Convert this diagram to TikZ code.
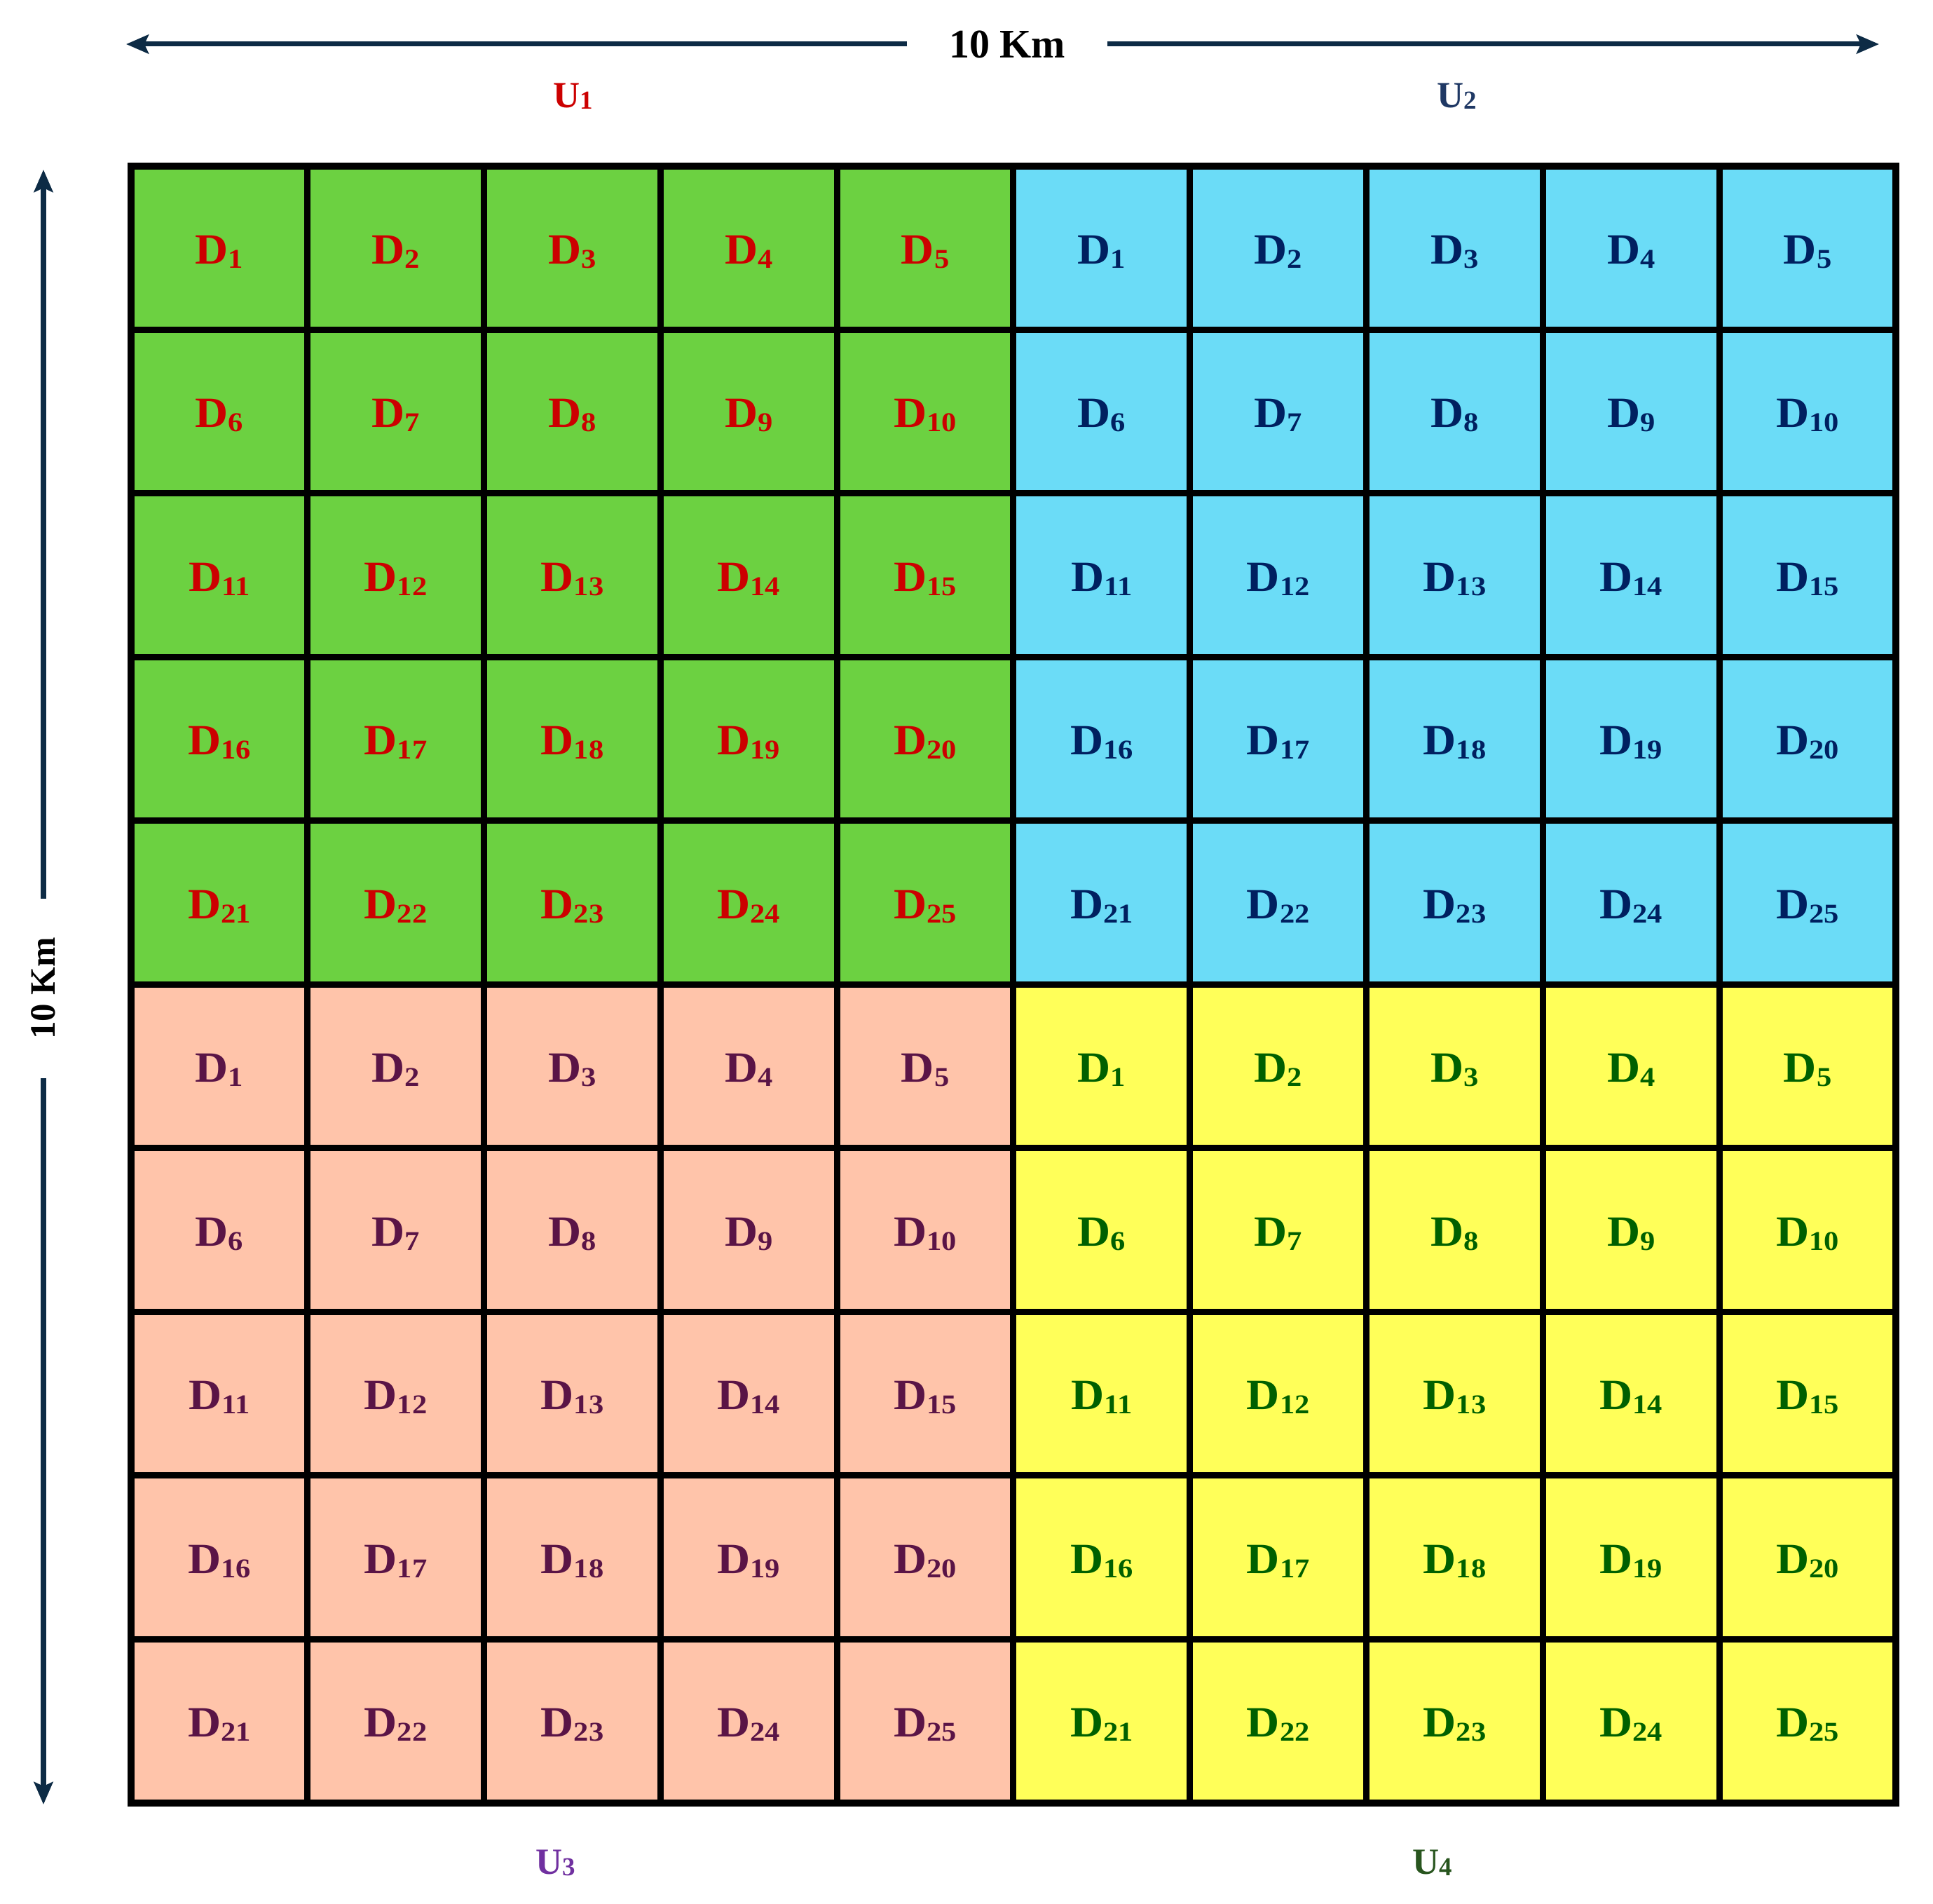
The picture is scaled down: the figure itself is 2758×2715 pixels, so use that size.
\documentclass[tikz,border=0pt]{standalone}
\usepackage{fontspec}
\usepackage{graphicx}
\setmainfont{Liberation Serif}
\usetikzlibrary{arrows.meta}
\definecolor{qf1}{RGB}{108,209,65}
\definecolor{qf2}{RGB}{107,220,247}
\definecolor{qf3}{RGB}{255,196,170}
\definecolor{qf4}{RGB}{255,255,89}
\definecolor{qt1}{RGB}{204,0,0}
\definecolor{qt2}{RGB}{0,32,96}
\definecolor{qt3}{RGB}{90,20,70}
\definecolor{qt4}{RGB}{0,96,0}
\definecolor{uc1}{RGB}{204,0,0}
\definecolor{uc2}{RGB}{31,56,100}
\definecolor{uc3}{RGB}{112,48,160}
\definecolor{uc4}{RGB}{40,85,30}
\definecolor{arrowc}{RGB}{13,43,69}
\newcommand\Dlab[1]{\scalebox{1.06}[1]{D}\raisebox{-1.7pt}{\scalebox{1.1}[1]{\fontsize{11}{11}\selectfont #1}}}
\newcommand\Ulab[1]{U\raisebox{-0.6pt}{\fontsize{10.5}{10.5}\selectfont #1}}
\tikzset{
  cell/.style={draw=black, line width=0.09cm, minimum width=2.518cm, minimum height=2.335cm,
    inner sep=0pt, outer sep=0pt, text height=12.7pt, text depth=0pt,
    font=\fontsize{17.5}{17.5}\selectfont\bfseries},
  km/.style={inner ysep=0pt, inner xsep=0.59cm, font=\fontsize{16.5}{16.5}\selectfont\bfseries, text=black},
  vkmstyle/.style={inner ysep=0pt, inner xsep=0.54cm, font=\fontsize{14.5}{14.5}\selectfont\bfseries, text=black, rotate=90},
  ulab/.style={inner sep=0pt, font=\fontsize{15}{15}\selectfont\bfseries},
  dim/.style={draw=arrowc, line width=0.07cm, -{Stealth[length=0.32cm,width=0.27cm,inset=0.06cm]}}
}
\begin{document}
\begin{tikzpicture}[x=0.01cm,y=-0.01cm]
\useasboundingbox (0,0) rectangle (2758,2715);
\def\gx{187}\def\gy{237}\def\cw{251.8}\def\ch{233.5}
\foreach \r in {0,...,9}{
  \foreach \c in {0,...,9}{
    \pgfmathtruncatemacro\n{mod(\r,5)*5+mod(\c,5)+1}
    \pgfmathtruncatemacro\q{1+(\c>4)+2*(\r>4)}
    \node[cell, fill=qf\q, text=qt\q] (c-\r-\c) at ({\gx+(\c+0.5)*\cw},{\gy+(\r+0.5)*\ch}) {\Dlab{\n}};
  }
}
\draw[line width=0.1cm] (c-0-0.north west) rectangle (c-9-9.south east);
% horizontal dimension
\node[km] (hkm) at (1437,63) {10 Km};
\coordinate (hl) at (180,63);
\coordinate (hr) at (2681,63);
\draw[dim] (hkm.west) -- (hl);
\draw[dim] (hkm.east) -- (hr);
% vertical dimension
\node[vkmstyle] (vkm) at (62,1410) {10 Km};
\coordinate (vt) at (62,242);
\coordinate (vb) at (62,2574);
\draw[dim] (vkm.east) -- (vt);
\draw[dim] (vkm.west) -- (vb);
% U labels
\node[ulab, text=uc1] (u1) at (818,137) {\Ulab{1}};
\node[ulab, text=uc2] (u2) at (2079,137) {\Ulab{2}};
\node[ulab, text=uc3] (u3) at (793,2657) {\Ulab{3}};
\node[ulab, text=uc4] (u4) at (2044,2657) {\Ulab{4}};
\end{tikzpicture}
\end{document}
